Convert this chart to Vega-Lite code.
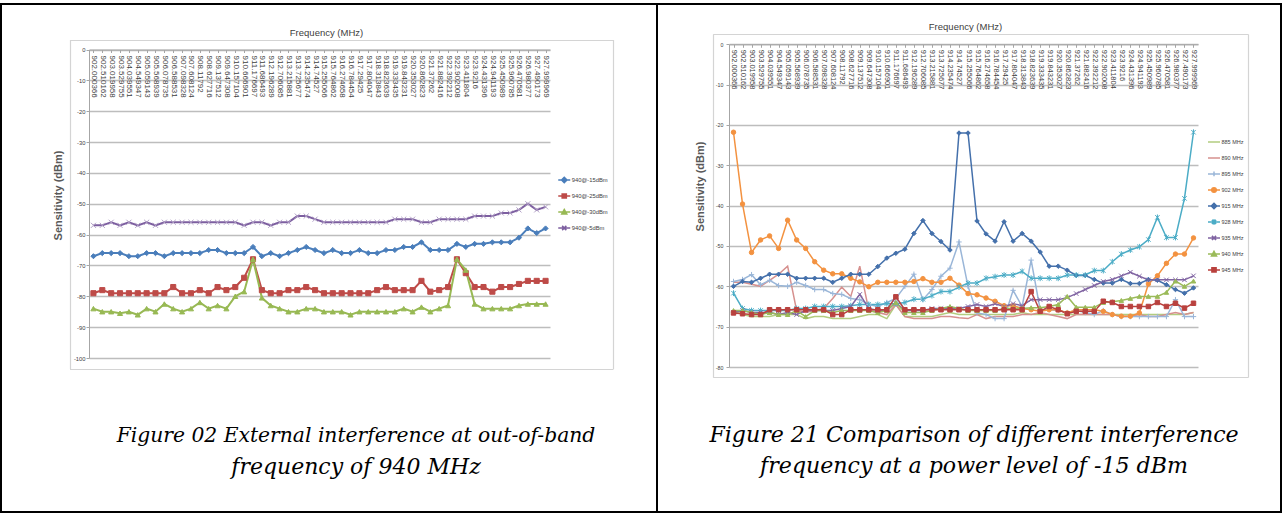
{
"$schema": "https://vega.github.io/schema/vega-lite/v6.json",
"padding": {"left": 0, "top": 3, "right": 0, "bottom": 0},
"background": "white",
"spacing": 0,
"bounds": "flush",
"config": {"view": {"stroke": "#000000", "strokeWidth": 2}, "font": "Liberation Sans"},
"resolve": {"scale": {"color": "independent", "fill": "independent", "stroke": "independent", "shape": "independent", "strokeWidth": "independent"}, "legend": {"color": "independent"}},
"datasets": {
"left": [
{"x":"902.000366","s":"940@-15dBm","v":-67},{"x":"902.510162","s":"940@-15dBm","v":-66},{"x":"903.019958","s":"940@-15dBm","v":-66},{"x":"903.529755","s":"940@-15dBm","v":-66},{"x":"904.039551","s":"940@-15dBm","v":-67},{"x":"904.549347","s":"940@-15dBm","v":-67},{"x":"905.059143","s":"940@-15dBm","v":-66},{"x":"905.568939","s":"940@-15dBm","v":-66},{"x":"906.078735","s":"940@-15dBm","v":-67},{"x":"906.588531","s":"940@-15dBm","v":-66},
{"x":"907.098328","s":"940@-15dBm","v":-66},{"x":"907.608124","s":"940@-15dBm","v":-66},{"x":"908.11792","s":"940@-15dBm","v":-66},{"x":"908.627716","s":"940@-15dBm","v":-65},{"x":"909.137512","s":"940@-15dBm","v":-65},{"x":"909.647308","s":"940@-15dBm","v":-66},{"x":"910.157104","s":"940@-15dBm","v":-66},{"x":"910.666901","s":"940@-15dBm","v":-66},{"x":"911.176697","s":"940@-15dBm","v":-64},{"x":"911.686493","s":"940@-15dBm","v":-67},
{"x":"912.196289","s":"940@-15dBm","v":-66},{"x":"912.706085","s":"940@-15dBm","v":-67},{"x":"913.215881","s":"940@-15dBm","v":-66},{"x":"913.725677","s":"940@-15dBm","v":-65},{"x":"914.235474","s":"940@-15dBm","v":-64},{"x":"914.74527","s":"940@-15dBm","v":-65},{"x":"915.255066","s":"940@-15dBm","v":-66},{"x":"915.764862","s":"940@-15dBm","v":-65},{"x":"916.274658","s":"940@-15dBm","v":-66},{"x":"916.784454","s":"940@-15dBm","v":-66},
{"x":"917.29425","s":"940@-15dBm","v":-65},{"x":"917.804047","s":"940@-15dBm","v":-66},{"x":"918.313843","s":"940@-15dBm","v":-66},{"x":"918.823639","s":"940@-15dBm","v":-65},{"x":"919.333435","s":"940@-15dBm","v":-65},{"x":"919.843231","s":"940@-15dBm","v":-64},{"x":"920.353027","s":"940@-15dBm","v":-64},{"x":"920.862823","s":"940@-15dBm","v":-62.5},{"x":"921.37262","s":"940@-15dBm","v":-65},{"x":"921.882416","s":"940@-15dBm","v":-65},
{"x":"922.392212","s":"940@-15dBm","v":-65},{"x":"922.902008","s":"940@-15dBm","v":-63},{"x":"923.411804","s":"940@-15dBm","v":-64},{"x":"923.9216","s":"940@-15dBm","v":-63},{"x":"924.431396","s":"940@-15dBm","v":-63},{"x":"924.941193","s":"940@-15dBm","v":-62.5},{"x":"925.450989","s":"940@-15dBm","v":-62.5},{"x":"925.960785","s":"940@-15dBm","v":-62.5},{"x":"926.470581","s":"940@-15dBm","v":-61},{"x":"926.980377","s":"940@-15dBm","v":-58},
{"x":"927.490173","s":"940@-15dBm","v":-59.5},{"x":"927.999969","s":"940@-15dBm","v":-58},
{"x":"902.000366","s":"940@-25dBm","v":-79},{"x":"902.510162","s":"940@-25dBm","v":-78},{"x":"903.019958","s":"940@-25dBm","v":-79},{"x":"903.529755","s":"940@-25dBm","v":-79},{"x":"904.039551","s":"940@-25dBm","v":-79},{"x":"904.549347","s":"940@-25dBm","v":-79},{"x":"905.059143","s":"940@-25dBm","v":-79},{"x":"905.568939","s":"940@-25dBm","v":-79},{"x":"906.078735","s":"940@-25dBm","v":-79},{"x":"906.588531","s":"940@-25dBm","v":-77},
{"x":"907.098328","s":"940@-25dBm","v":-79},{"x":"907.608124","s":"940@-25dBm","v":-79},{"x":"908.11792","s":"940@-25dBm","v":-78},{"x":"908.627716","s":"940@-25dBm","v":-79},{"x":"909.137512","s":"940@-25dBm","v":-77},{"x":"909.647308","s":"940@-25dBm","v":-78},{"x":"910.157104","s":"940@-25dBm","v":-77},{"x":"910.666901","s":"940@-25dBm","v":-74},{"x":"911.176697","s":"940@-25dBm","v":-68},{"x":"911.686493","s":"940@-25dBm","v":-78},
{"x":"912.196289","s":"940@-25dBm","v":-79},{"x":"912.706085","s":"940@-25dBm","v":-79},{"x":"913.215881","s":"940@-25dBm","v":-78},{"x":"913.725677","s":"940@-25dBm","v":-78},{"x":"914.235474","s":"940@-25dBm","v":-77},{"x":"914.74527","s":"940@-25dBm","v":-78},{"x":"915.255066","s":"940@-25dBm","v":-79},{"x":"915.764862","s":"940@-25dBm","v":-79},{"x":"916.274658","s":"940@-25dBm","v":-79},{"x":"916.784454","s":"940@-25dBm","v":-79},
{"x":"917.29425","s":"940@-25dBm","v":-79},{"x":"917.804047","s":"940@-25dBm","v":-79},{"x":"918.313843","s":"940@-25dBm","v":-78},{"x":"918.823639","s":"940@-25dBm","v":-77},{"x":"919.333435","s":"940@-25dBm","v":-78},{"x":"919.843231","s":"940@-25dBm","v":-78},{"x":"920.353027","s":"940@-25dBm","v":-78},{"x":"920.862823","s":"940@-25dBm","v":-75},{"x":"921.37262","s":"940@-25dBm","v":-78.5},{"x":"921.882416","s":"940@-25dBm","v":-78},
{"x":"922.392212","s":"940@-25dBm","v":-77},{"x":"922.902008","s":"940@-25dBm","v":-68},{"x":"923.411804","s":"940@-25dBm","v":-72.5},{"x":"923.9216","s":"940@-25dBm","v":-77},{"x":"924.431396","s":"940@-25dBm","v":-77},{"x":"924.941193","s":"940@-25dBm","v":-78.5},{"x":"925.450989","s":"940@-25dBm","v":-77},{"x":"925.960785","s":"940@-25dBm","v":-77},{"x":"926.470581","s":"940@-25dBm","v":-76},{"x":"926.980377","s":"940@-25dBm","v":-75},
{"x":"927.490173","s":"940@-25dBm","v":-75},{"x":"927.999969","s":"940@-25dBm","v":-75},
{"x":"902.000366","s":"940@-30dBm","v":-84},{"x":"902.510162","s":"940@-30dBm","v":-85},{"x":"903.019958","s":"940@-30dBm","v":-85},{"x":"903.529755","s":"940@-30dBm","v":-85.5},{"x":"904.039551","s":"940@-30dBm","v":-85},{"x":"904.549347","s":"940@-30dBm","v":-86},{"x":"905.059143","s":"940@-30dBm","v":-84},{"x":"905.568939","s":"940@-30dBm","v":-85},{"x":"906.078735","s":"940@-30dBm","v":-82.5},{"x":"906.588531","s":"940@-30dBm","v":-84},
{"x":"907.098328","s":"940@-30dBm","v":-85},{"x":"907.608124","s":"940@-30dBm","v":-84},{"x":"908.11792","s":"940@-30dBm","v":-82},{"x":"908.627716","s":"940@-30dBm","v":-84},{"x":"909.137512","s":"940@-30dBm","v":-83},{"x":"909.647308","s":"940@-30dBm","v":-84},{"x":"910.157104","s":"940@-30dBm","v":-80},{"x":"910.666901","s":"940@-30dBm","v":-78.5},{"x":"911.176697","s":"940@-30dBm","v":-68},{"x":"911.686493","s":"940@-30dBm","v":-80.5},
{"x":"912.196289","s":"940@-30dBm","v":-83},{"x":"912.706085","s":"940@-30dBm","v":-84},{"x":"913.215881","s":"940@-30dBm","v":-85},{"x":"913.725677","s":"940@-30dBm","v":-85},{"x":"914.235474","s":"940@-30dBm","v":-84},{"x":"914.74527","s":"940@-30dBm","v":-84},{"x":"915.255066","s":"940@-30dBm","v":-85},{"x":"915.764862","s":"940@-30dBm","v":-85},{"x":"916.274658","s":"940@-30dBm","v":-85},{"x":"916.784454","s":"940@-30dBm","v":-86},
{"x":"917.29425","s":"940@-30dBm","v":-85},{"x":"917.804047","s":"940@-30dBm","v":-85},{"x":"918.313843","s":"940@-30dBm","v":-85},{"x":"918.823639","s":"940@-30dBm","v":-85},{"x":"919.333435","s":"940@-30dBm","v":-85},{"x":"919.843231","s":"940@-30dBm","v":-84},{"x":"920.353027","s":"940@-30dBm","v":-85},{"x":"920.862823","s":"940@-30dBm","v":-83.5},{"x":"921.37262","s":"940@-30dBm","v":-85},{"x":"921.882416","s":"940@-30dBm","v":-84},
{"x":"922.392212","s":"940@-30dBm","v":-83},{"x":"922.902008","s":"940@-30dBm","v":-68},{"x":"923.411804","s":"940@-30dBm","v":-71.5},{"x":"923.9216","s":"940@-30dBm","v":-82.5},{"x":"924.431396","s":"940@-30dBm","v":-84},{"x":"924.941193","s":"940@-30dBm","v":-84},{"x":"925.450989","s":"940@-30dBm","v":-84},{"x":"925.960785","s":"940@-30dBm","v":-84},{"x":"926.470581","s":"940@-30dBm","v":-83},{"x":"926.980377","s":"940@-30dBm","v":-82.5},
{"x":"927.490173","s":"940@-30dBm","v":-82.5},{"x":"927.999969","s":"940@-30dBm","v":-82.5},
{"x":"902.000366","s":"940@-5dBm","v":-57},{"x":"902.510162","s":"940@-5dBm","v":-57},{"x":"903.019958","s":"940@-5dBm","v":-56},{"x":"903.529755","s":"940@-5dBm","v":-57},{"x":"904.039551","s":"940@-5dBm","v":-56},{"x":"904.549347","s":"940@-5dBm","v":-57},{"x":"905.059143","s":"940@-5dBm","v":-56},{"x":"905.568939","s":"940@-5dBm","v":-57},{"x":"906.078735","s":"940@-5dBm","v":-56},{"x":"906.588531","s":"940@-5dBm","v":-56},
{"x":"907.098328","s":"940@-5dBm","v":-56},{"x":"907.608124","s":"940@-5dBm","v":-56},{"x":"908.11792","s":"940@-5dBm","v":-56},{"x":"908.627716","s":"940@-5dBm","v":-56},{"x":"909.137512","s":"940@-5dBm","v":-56},{"x":"909.647308","s":"940@-5dBm","v":-56},{"x":"910.157104","s":"940@-5dBm","v":-56},{"x":"910.666901","s":"940@-5dBm","v":-57},{"x":"911.176697","s":"940@-5dBm","v":-56},{"x":"911.686493","s":"940@-5dBm","v":-56},
{"x":"912.196289","s":"940@-5dBm","v":-57},{"x":"912.706085","s":"940@-5dBm","v":-56},{"x":"913.215881","s":"940@-5dBm","v":-56},{"x":"913.725677","s":"940@-5dBm","v":-54},{"x":"914.235474","s":"940@-5dBm","v":-54},{"x":"914.74527","s":"940@-5dBm","v":-55},{"x":"915.255066","s":"940@-5dBm","v":-56},{"x":"915.764862","s":"940@-5dBm","v":-56},{"x":"916.274658","s":"940@-5dBm","v":-56},{"x":"916.784454","s":"940@-5dBm","v":-56},
{"x":"917.29425","s":"940@-5dBm","v":-56},{"x":"917.804047","s":"940@-5dBm","v":-56},{"x":"918.313843","s":"940@-5dBm","v":-56},{"x":"918.823639","s":"940@-5dBm","v":-56},{"x":"919.333435","s":"940@-5dBm","v":-55},{"x":"919.843231","s":"940@-5dBm","v":-55},{"x":"920.353027","s":"940@-5dBm","v":-55},{"x":"920.862823","s":"940@-5dBm","v":-56},{"x":"921.37262","s":"940@-5dBm","v":-56},{"x":"921.882416","s":"940@-5dBm","v":-55},
{"x":"922.392212","s":"940@-5dBm","v":-55},{"x":"922.902008","s":"940@-5dBm","v":-55},{"x":"923.411804","s":"940@-5dBm","v":-55},{"x":"923.9216","s":"940@-5dBm","v":-54},{"x":"924.431396","s":"940@-5dBm","v":-54},{"x":"924.941193","s":"940@-5dBm","v":-54},{"x":"925.450989","s":"940@-5dBm","v":-53},{"x":"925.960785","s":"940@-5dBm","v":-53},{"x":"926.470581","s":"940@-5dBm","v":-52},{"x":"926.980377","s":"940@-5dBm","v":-50},
{"x":"927.490173","s":"940@-5dBm","v":-52},{"x":"927.999969","s":"940@-5dBm","v":-51}
],
"right": [
{"x":"902.000366","s":"885 MHz","v":-66},{"x":"902.510162","s":"885 MHz","v":-67},{"x":"903.019958","s":"885 MHz","v":-67.5},{"x":"903.529755","s":"885 MHz","v":-67.5},{"x":"904.039551","s":"885 MHz","v":-67.5},{"x":"904.549347","s":"885 MHz","v":-67},{"x":"905.059143","s":"885 MHz","v":-67},{"x":"905.568939","s":"885 MHz","v":-67},{"x":"906.078735","s":"885 MHz","v":-68},{"x":"906.588531","s":"885 MHz","v":-67.5},
{"x":"907.098328","s":"885 MHz","v":-67.5},{"x":"907.608124","s":"885 MHz","v":-68},{"x":"908.11792","s":"885 MHz","v":-68},{"x":"908.627716","s":"885 MHz","v":-68},{"x":"909.137512","s":"885 MHz","v":-67.5},{"x":"909.647308","s":"885 MHz","v":-67},{"x":"910.157104","s":"885 MHz","v":-67},{"x":"910.666901","s":"885 MHz","v":-68},{"x":"911.176697","s":"885 MHz","v":-64.5},{"x":"911.686493","s":"885 MHz","v":-67.5},
{"x":"912.196289","s":"885 MHz","v":-67.5},{"x":"912.706085","s":"885 MHz","v":-67.5},{"x":"913.215881","s":"885 MHz","v":-67.5},{"x":"913.725677","s":"885 MHz","v":-67},{"x":"914.235474","s":"885 MHz","v":-66.5},{"x":"914.74527","s":"885 MHz","v":-67},{"x":"915.255066","s":"885 MHz","v":-67},{"x":"915.764862","s":"885 MHz","v":-67},{"x":"916.274658","s":"885 MHz","v":-67},{"x":"916.784454","s":"885 MHz","v":-67},
{"x":"917.29425","s":"885 MHz","v":-67},{"x":"917.804047","s":"885 MHz","v":-67},{"x":"918.313843","s":"885 MHz","v":-66.5},{"x":"918.823639","s":"885 MHz","v":-67},{"x":"919.333435","s":"885 MHz","v":-67},{"x":"919.843231","s":"885 MHz","v":-67},{"x":"920.353027","s":"885 MHz","v":-67},{"x":"920.862823","s":"885 MHz","v":-67},{"x":"921.37262","s":"885 MHz","v":-67},{"x":"921.882416","s":"885 MHz","v":-67},
{"x":"922.392212","s":"885 MHz","v":-67},{"x":"922.902008","s":"885 MHz","v":-67},{"x":"923.411804","s":"885 MHz","v":-67},{"x":"923.9216","s":"885 MHz","v":-67},{"x":"924.431396","s":"885 MHz","v":-67},{"x":"924.941193","s":"885 MHz","v":-67},{"x":"925.450989","s":"885 MHz","v":-67},{"x":"925.960785","s":"885 MHz","v":-67},{"x":"926.470581","s":"885 MHz","v":-67},{"x":"926.980377","s":"885 MHz","v":-67},
{"x":"927.490173","s":"885 MHz","v":-67},{"x":"927.999969","s":"885 MHz","v":-66.5},
{"x":"902.000366","s":"890 MHz","v":-59},{"x":"902.510162","s":"890 MHz","v":-59},{"x":"903.019958","s":"890 MHz","v":-59.5},{"x":"903.529755","s":"890 MHz","v":-60},{"x":"904.039551","s":"890 MHz","v":-58.5},{"x":"904.549347","s":"890 MHz","v":-57},{"x":"905.059143","s":"890 MHz","v":-55},{"x":"905.568939","s":"890 MHz","v":-66},{"x":"906.078735","s":"890 MHz","v":-66.5},{"x":"906.588531","s":"890 MHz","v":-66},
{"x":"907.098328","s":"890 MHz","v":-65.5},{"x":"907.608124","s":"890 MHz","v":-63},{"x":"908.11792","s":"890 MHz","v":-60.2},{"x":"908.627716","s":"890 MHz","v":-62.5},{"x":"909.137512","s":"890 MHz","v":-55},{"x":"909.647308","s":"890 MHz","v":-66},{"x":"910.157104","s":"890 MHz","v":-66.5},{"x":"910.666901","s":"890 MHz","v":-67},{"x":"911.176697","s":"890 MHz","v":-64.5},{"x":"911.686493","s":"890 MHz","v":-67.5},
{"x":"912.196289","s":"890 MHz","v":-68},{"x":"912.706085","s":"890 MHz","v":-68},{"x":"913.215881","s":"890 MHz","v":-68},{"x":"913.725677","s":"890 MHz","v":-67.5},{"x":"914.235474","s":"890 MHz","v":-67.5},{"x":"914.74527","s":"890 MHz","v":-67.8},{"x":"915.255066","s":"890 MHz","v":-68},{"x":"915.764862","s":"890 MHz","v":-67},{"x":"916.274658","s":"890 MHz","v":-68},{"x":"916.784454","s":"890 MHz","v":-67.5},
{"x":"917.29425","s":"890 MHz","v":-67.5},{"x":"917.804047","s":"890 MHz","v":-67.5},{"x":"918.313843","s":"890 MHz","v":-67},{"x":"918.823639","s":"890 MHz","v":-67},{"x":"919.333435","s":"890 MHz","v":-66.5},{"x":"919.843231","s":"890 MHz","v":-67},{"x":"920.353027","s":"890 MHz","v":-67.5},{"x":"920.862823","s":"890 MHz","v":-68},{"x":"921.37262","s":"890 MHz","v":-67},{"x":"921.882416","s":"890 MHz","v":-67},
{"x":"922.392212","s":"890 MHz","v":-67},{"x":"922.902008","s":"890 MHz","v":-67},{"x":"923.411804","s":"890 MHz","v":-67},{"x":"923.9216","s":"890 MHz","v":-67.5},{"x":"924.431396","s":"890 MHz","v":-67.5},{"x":"924.941193","s":"890 MHz","v":-67},{"x":"925.450989","s":"890 MHz","v":-67.5},{"x":"925.960785","s":"890 MHz","v":-67.5},{"x":"926.470581","s":"890 MHz","v":-67},{"x":"926.980377","s":"890 MHz","v":-66.5},
{"x":"927.490173","s":"890 MHz","v":-67},{"x":"927.999969","s":"890 MHz","v":-66.5},
{"x":"902.000366","s":"895 MHz","v":-58.8},{"x":"902.510162","s":"895 MHz","v":-58.3},{"x":"903.019958","s":"895 MHz","v":-57.1},{"x":"903.529755","s":"895 MHz","v":-59.6},{"x":"904.039551","s":"895 MHz","v":-58.5},{"x":"904.549347","s":"895 MHz","v":-59.8},{"x":"905.059143","s":"895 MHz","v":-60},{"x":"905.568939","s":"895 MHz","v":-59},{"x":"906.078735","s":"895 MHz","v":-59.8},{"x":"906.588531","s":"895 MHz","v":-60.8},
{"x":"907.098328","s":"895 MHz","v":-60.8},{"x":"907.608124","s":"895 MHz","v":-61.8},{"x":"908.11792","s":"895 MHz","v":-62},{"x":"908.627716","s":"895 MHz","v":-63},{"x":"909.137512","s":"895 MHz","v":-63.3},{"x":"909.647308","s":"895 MHz","v":-64.5},{"x":"910.157104","s":"895 MHz","v":-65},{"x":"910.666901","s":"895 MHz","v":-64},{"x":"911.176697","s":"895 MHz","v":-63},{"x":"911.686493","s":"895 MHz","v":-60},
{"x":"912.196289","s":"895 MHz","v":-57},{"x":"912.706085","s":"895 MHz","v":-63.3},{"x":"913.215881","s":"895 MHz","v":-60.8},{"x":"913.725677","s":"895 MHz","v":-57.5},{"x":"914.235474","s":"895 MHz","v":-55.5},{"x":"914.74527","s":"895 MHz","v":-49},{"x":"915.255066","s":"895 MHz","v":-60},{"x":"915.764862","s":"895 MHz","v":-66.6},{"x":"916.274658","s":"895 MHz","v":-67},{"x":"916.784454","s":"895 MHz","v":-68},
{"x":"917.29425","s":"895 MHz","v":-68},{"x":"917.804047","s":"895 MHz","v":-61},{"x":"918.313843","s":"895 MHz","v":-65},{"x":"918.823639","s":"895 MHz","v":-53.5},{"x":"919.333435","s":"895 MHz","v":-65.8},{"x":"919.843231","s":"895 MHz","v":-65.8},{"x":"920.353027","s":"895 MHz","v":-66},{"x":"920.862823","s":"895 MHz","v":-66.5},{"x":"921.37262","s":"895 MHz","v":-66},{"x":"921.882416","s":"895 MHz","v":-66.5},
{"x":"922.392212","s":"895 MHz","v":-67},{"x":"922.902008","s":"895 MHz","v":-66},{"x":"923.411804","s":"895 MHz","v":-67},{"x":"923.9216","s":"895 MHz","v":-67.5},{"x":"924.431396","s":"895 MHz","v":-67.5},{"x":"924.941193","s":"895 MHz","v":-67.5},{"x":"925.450989","s":"895 MHz","v":-67.5},{"x":"925.960785","s":"895 MHz","v":-67.5},{"x":"926.470581","s":"895 MHz","v":-67.5},{"x":"926.980377","s":"895 MHz","v":-63.3},
{"x":"927.490173","s":"895 MHz","v":-67.5},{"x":"927.999969","s":"895 MHz","v":-67.5},
{"x":"902.000366","s":"902 MHz","v":-21.8},{"x":"902.510162","s":"902 MHz","v":-39.6},{"x":"903.019958","s":"902 MHz","v":-51.6},{"x":"903.529755","s":"902 MHz","v":-48.5},{"x":"904.039551","s":"902 MHz","v":-47.5},{"x":"904.549347","s":"902 MHz","v":-50.6},{"x":"905.059143","s":"902 MHz","v":-43.6},{"x":"905.568939","s":"902 MHz","v":-48.5},{"x":"906.078735","s":"902 MHz","v":-50.6},{"x":"906.588531","s":"902 MHz","v":-53.9},
{"x":"907.098328","s":"902 MHz","v":-56},{"x":"907.608124","s":"902 MHz","v":-56.9},{"x":"908.11792","s":"902 MHz","v":-56.9},{"x":"908.627716","s":"902 MHz","v":-58},{"x":"909.137512","s":"902 MHz","v":-58.9},{"x":"909.647308","s":"902 MHz","v":-60.1},{"x":"910.157104","s":"902 MHz","v":-59},{"x":"910.666901","s":"902 MHz","v":-59},{"x":"911.176697","s":"902 MHz","v":-59},{"x":"911.686493","s":"902 MHz","v":-59},
{"x":"912.196289","s":"902 MHz","v":-58.8},{"x":"912.706085","s":"902 MHz","v":-58.1},{"x":"913.215881","s":"902 MHz","v":-59},{"x":"913.725677","s":"902 MHz","v":-59},{"x":"914.235474","s":"902 MHz","v":-58},{"x":"914.74527","s":"902 MHz","v":-59.7},{"x":"915.255066","s":"902 MHz","v":-61.8},{"x":"915.764862","s":"902 MHz","v":-62.1},{"x":"916.274658","s":"902 MHz","v":-62.9},{"x":"916.784454","s":"902 MHz","v":-63.7},
{"x":"917.29425","s":"902 MHz","v":-64.8},{"x":"917.804047","s":"902 MHz","v":-64.8},{"x":"918.313843","s":"902 MHz","v":-65.5},{"x":"918.823639","s":"902 MHz","v":-65.8},{"x":"919.333435","s":"902 MHz","v":-66.2},{"x":"919.843231","s":"902 MHz","v":-65.8},{"x":"920.353027","s":"902 MHz","v":-65.8},{"x":"920.862823","s":"902 MHz","v":-66.6},{"x":"921.37262","s":"902 MHz","v":-65.8},{"x":"921.882416","s":"902 MHz","v":-65.8},
{"x":"922.392212","s":"902 MHz","v":-65.8},{"x":"922.902008","s":"902 MHz","v":-66.2},{"x":"923.411804","s":"902 MHz","v":-67},{"x":"923.9216","s":"902 MHz","v":-67.4},{"x":"924.431396","s":"902 MHz","v":-67.4},{"x":"924.941193","s":"902 MHz","v":-66.6},{"x":"925.450989","s":"902 MHz","v":-59.4},{"x":"925.960785","s":"902 MHz","v":-57.4},{"x":"926.470581","s":"902 MHz","v":-54.3},{"x":"926.980377","s":"902 MHz","v":-52},
{"x":"927.490173","s":"902 MHz","v":-52},{"x":"927.999969","s":"902 MHz","v":-48},
{"x":"902.000366","s":"915 MHz","v":-60},{"x":"902.510162","s":"915 MHz","v":-58.8},{"x":"903.019958","s":"915 MHz","v":-59},{"x":"903.529755","s":"915 MHz","v":-58},{"x":"904.039551","s":"915 MHz","v":-57},{"x":"904.549347","s":"915 MHz","v":-57},{"x":"905.059143","s":"915 MHz","v":-57},{"x":"905.568939","s":"915 MHz","v":-58},{"x":"906.078735","s":"915 MHz","v":-58},{"x":"906.588531","s":"915 MHz","v":-58},
{"x":"907.098328","s":"915 MHz","v":-58},{"x":"907.608124","s":"915 MHz","v":-59},{"x":"908.11792","s":"915 MHz","v":-58},{"x":"908.627716","s":"915 MHz","v":-57},{"x":"909.137512","s":"915 MHz","v":-57},{"x":"909.647308","s":"915 MHz","v":-57},{"x":"910.157104","s":"915 MHz","v":-55.1},{"x":"910.666901","s":"915 MHz","v":-53},{"x":"911.176697","s":"915 MHz","v":-51.8},{"x":"911.686493","s":"915 MHz","v":-50.8},
{"x":"912.196289","s":"915 MHz","v":-46.9},{"x":"912.706085","s":"915 MHz","v":-43.7},{"x":"913.215881","s":"915 MHz","v":-46.9},{"x":"913.725677","s":"915 MHz","v":-48.9},{"x":"914.235474","s":"915 MHz","v":-51},{"x":"914.74527","s":"915 MHz","v":-22},{"x":"915.255066","s":"915 MHz","v":-22},{"x":"915.764862","s":"915 MHz","v":-43.8},{"x":"916.274658","s":"915 MHz","v":-47},{"x":"916.784454","s":"915 MHz","v":-48.8},
{"x":"917.29425","s":"915 MHz","v":-44},{"x":"917.804047","s":"915 MHz","v":-48.8},{"x":"918.313843","s":"915 MHz","v":-46.9},{"x":"918.823639","s":"915 MHz","v":-48.8},{"x":"919.333435","s":"915 MHz","v":-51.5},{"x":"919.843231","s":"915 MHz","v":-55},{"x":"920.353027","s":"915 MHz","v":-55},{"x":"920.862823","s":"915 MHz","v":-56},{"x":"921.37262","s":"915 MHz","v":-57.3},{"x":"921.882416","s":"915 MHz","v":-57.3},
{"x":"922.392212","s":"915 MHz","v":-58.3},{"x":"922.902008","s":"915 MHz","v":-59.2},{"x":"923.411804","s":"915 MHz","v":-59.2},{"x":"923.9216","s":"915 MHz","v":-58.3},{"x":"924.431396","s":"915 MHz","v":-59.3},{"x":"924.941193","s":"915 MHz","v":-59.3},{"x":"925.450989","s":"915 MHz","v":-58.3},{"x":"925.960785","s":"915 MHz","v":-58.5},{"x":"926.470581","s":"915 MHz","v":-59.6},{"x":"926.980377","s":"915 MHz","v":-60.8},
{"x":"927.490173","s":"915 MHz","v":-61.7},{"x":"927.999969","s":"915 MHz","v":-60.4},
{"x":"902.000366","s":"928 MHz","v":-61.7},{"x":"902.510162","s":"928 MHz","v":-65.5},{"x":"903.019958","s":"928 MHz","v":-66},{"x":"903.529755","s":"928 MHz","v":-66},{"x":"904.039551","s":"928 MHz","v":-66},{"x":"904.549347","s":"928 MHz","v":-66},{"x":"905.059143","s":"928 MHz","v":-66},{"x":"905.568939","s":"928 MHz","v":-65.5},{"x":"906.078735","s":"928 MHz","v":-65.5},{"x":"906.588531","s":"928 MHz","v":-65},
{"x":"907.098328","s":"928 MHz","v":-65},{"x":"907.608124","s":"928 MHz","v":-65},{"x":"908.11792","s":"928 MHz","v":-65},{"x":"908.627716","s":"928 MHz","v":-64.8},{"x":"909.137512","s":"928 MHz","v":-64.5},{"x":"909.647308","s":"928 MHz","v":-64.5},{"x":"910.157104","s":"928 MHz","v":-64.5},{"x":"910.666901","s":"928 MHz","v":-64.3},{"x":"911.176697","s":"928 MHz","v":-64.3},{"x":"911.686493","s":"928 MHz","v":-64},
{"x":"912.196289","s":"928 MHz","v":-63.2},{"x":"912.706085","s":"928 MHz","v":-63.2},{"x":"913.215881","s":"928 MHz","v":-62.3},{"x":"913.725677","s":"928 MHz","v":-61.3},{"x":"914.235474","s":"928 MHz","v":-61.3},{"x":"914.74527","s":"928 MHz","v":-60.2},{"x":"915.255066","s":"928 MHz","v":-59.2},{"x":"915.764862","s":"928 MHz","v":-59.2},{"x":"916.274658","s":"928 MHz","v":-58},{"x":"916.784454","s":"928 MHz","v":-57.6},
{"x":"917.29425","s":"928 MHz","v":-57.2},{"x":"917.804047","s":"928 MHz","v":-57.2},{"x":"918.313843","s":"928 MHz","v":-56.3},{"x":"918.823639","s":"928 MHz","v":-58},{"x":"919.333435","s":"928 MHz","v":-58},{"x":"919.843231","s":"928 MHz","v":-58},{"x":"920.353027","s":"928 MHz","v":-58},{"x":"920.862823","s":"928 MHz","v":-57.2},{"x":"921.37262","s":"928 MHz","v":-57.2},{"x":"921.882416","s":"928 MHz","v":-57.2},
{"x":"922.392212","s":"928 MHz","v":-56.1},{"x":"922.902008","s":"928 MHz","v":-56.1},{"x":"923.411804","s":"928 MHz","v":-53.9},{"x":"923.9216","s":"928 MHz","v":-52},{"x":"924.431396","s":"928 MHz","v":-51},{"x":"924.941193","s":"928 MHz","v":-50.2},{"x":"925.450989","s":"928 MHz","v":-48.4},{"x":"925.960785","s":"928 MHz","v":-42.9},{"x":"926.470581","s":"928 MHz","v":-47.9},{"x":"926.980377","s":"928 MHz","v":-47.9},
{"x":"927.490173","s":"928 MHz","v":-38.2},{"x":"927.999969","s":"928 MHz","v":-21.8},
{"x":"902.000366","s":"935 MHz","v":-66.5},{"x":"902.510162","s":"935 MHz","v":-66},{"x":"903.019958","s":"935 MHz","v":-66.5},{"x":"903.529755","s":"935 MHz","v":-66.5},{"x":"904.039551","s":"935 MHz","v":-66.5},{"x":"904.549347","s":"935 MHz","v":-67},{"x":"905.059143","s":"935 MHz","v":-66.5},{"x":"905.568939","s":"935 MHz","v":-67},{"x":"906.078735","s":"935 MHz","v":-66},{"x":"906.588531","s":"935 MHz","v":-66},
{"x":"907.098328","s":"935 MHz","v":-66},{"x":"907.608124","s":"935 MHz","v":-66},{"x":"908.11792","s":"935 MHz","v":-65.5},{"x":"908.627716","s":"935 MHz","v":-65},{"x":"909.137512","s":"935 MHz","v":-62},{"x":"909.647308","s":"935 MHz","v":-65.5},{"x":"910.157104","s":"935 MHz","v":-66},{"x":"910.666901","s":"935 MHz","v":-66},{"x":"911.176697","s":"935 MHz","v":-64},{"x":"911.686493","s":"935 MHz","v":-66},
{"x":"912.196289","s":"935 MHz","v":-66},{"x":"912.706085","s":"935 MHz","v":-66},{"x":"913.215881","s":"935 MHz","v":-65.5},{"x":"913.725677","s":"935 MHz","v":-65.5},{"x":"914.235474","s":"935 MHz","v":-65.5},{"x":"914.74527","s":"935 MHz","v":-65.5},{"x":"915.255066","s":"935 MHz","v":-65},{"x":"915.764862","s":"935 MHz","v":-64.5},{"x":"916.274658","s":"935 MHz","v":-65},{"x":"916.784454","s":"935 MHz","v":-64.3},
{"x":"917.29425","s":"935 MHz","v":-65},{"x":"917.804047","s":"935 MHz","v":-64.3},{"x":"918.313843","s":"935 MHz","v":-64.8},{"x":"918.823639","s":"935 MHz","v":-63.3},{"x":"919.333435","s":"935 MHz","v":-63.3},{"x":"919.843231","s":"935 MHz","v":-63.3},{"x":"920.353027","s":"935 MHz","v":-63.3},{"x":"920.862823","s":"935 MHz","v":-62.8},{"x":"921.37262","s":"935 MHz","v":-61.8},{"x":"921.882416","s":"935 MHz","v":-60.8},
{"x":"922.392212","s":"935 MHz","v":-59.8},{"x":"922.902008","s":"935 MHz","v":-58.8},{"x":"923.411804","s":"935 MHz","v":-58.3},{"x":"923.9216","s":"935 MHz","v":-57.4},{"x":"924.431396","s":"935 MHz","v":-56.5},{"x":"924.941193","s":"935 MHz","v":-57.5},{"x":"925.450989","s":"935 MHz","v":-58.4},{"x":"925.960785","s":"935 MHz","v":-58.4},{"x":"926.470581","s":"935 MHz","v":-58.4},{"x":"926.980377","s":"935 MHz","v":-58.4},
{"x":"927.490173","s":"935 MHz","v":-58.4},{"x":"927.999969","s":"935 MHz","v":-57.4},
{"x":"902.000366","s":"940 MHz","v":-66},{"x":"902.510162","s":"940 MHz","v":-66},{"x":"903.019958","s":"940 MHz","v":-66.5},{"x":"903.529755","s":"940 MHz","v":-67},{"x":"904.039551","s":"940 MHz","v":-66.5},{"x":"904.549347","s":"940 MHz","v":-67},{"x":"905.059143","s":"940 MHz","v":-67},{"x":"905.568939","s":"940 MHz","v":-66},{"x":"906.078735","s":"940 MHz","v":-67.5},{"x":"906.588531","s":"940 MHz","v":-66},
{"x":"907.098328","s":"940 MHz","v":-66},{"x":"907.608124","s":"940 MHz","v":-66.5},{"x":"908.11792","s":"940 MHz","v":-66},{"x":"908.627716","s":"940 MHz","v":-66},{"x":"909.137512","s":"940 MHz","v":-66},{"x":"909.647308","s":"940 MHz","v":-66},{"x":"910.157104","s":"940 MHz","v":-66.5},{"x":"910.666901","s":"940 MHz","v":-66},{"x":"911.176697","s":"940 MHz","v":-64},{"x":"911.686493","s":"940 MHz","v":-66.5},
{"x":"912.196289","s":"940 MHz","v":-66.5},{"x":"912.706085","s":"940 MHz","v":-66.5},{"x":"913.215881","s":"940 MHz","v":-66},{"x":"913.725677","s":"940 MHz","v":-65.5},{"x":"914.235474","s":"940 MHz","v":-65},{"x":"914.74527","s":"940 MHz","v":-65.5},{"x":"915.255066","s":"940 MHz","v":-66},{"x":"915.764862","s":"940 MHz","v":-66},{"x":"916.274658","s":"940 MHz","v":-66},{"x":"916.784454","s":"940 MHz","v":-66},
{"x":"917.29425","s":"940 MHz","v":-65.5},{"x":"917.804047","s":"940 MHz","v":-65.5},{"x":"918.313843","s":"940 MHz","v":-65.5},{"x":"918.823639","s":"940 MHz","v":-65.3},{"x":"919.333435","s":"940 MHz","v":-65.3},{"x":"919.843231","s":"940 MHz","v":-65},{"x":"920.353027","s":"940 MHz","v":-64.5},{"x":"920.862823","s":"940 MHz","v":-62.5},{"x":"921.37262","s":"940 MHz","v":-65.2},{"x":"921.882416","s":"940 MHz","v":-65.2},
{"x":"922.392212","s":"940 MHz","v":-65.2},{"x":"922.902008","s":"940 MHz","v":-64},{"x":"923.411804","s":"940 MHz","v":-63.8},{"x":"923.9216","s":"940 MHz","v":-63.5},{"x":"924.431396","s":"940 MHz","v":-63},{"x":"924.941193","s":"940 MHz","v":-62.5},{"x":"925.450989","s":"940 MHz","v":-62.5},{"x":"925.960785","s":"940 MHz","v":-62.5},{"x":"926.470581","s":"940 MHz","v":-61.5},{"x":"926.980377","s":"940 MHz","v":-58.7},
{"x":"927.490173","s":"940 MHz","v":-60},{"x":"927.999969","s":"940 MHz","v":-58.7},
{"x":"902.000366","s":"945 MHz","v":-66.6},{"x":"902.510162","s":"945 MHz","v":-66.8},{"x":"903.019958","s":"945 MHz","v":-67},{"x":"903.529755","s":"945 MHz","v":-67},{"x":"904.039551","s":"945 MHz","v":-65.8},{"x":"904.549347","s":"945 MHz","v":-65.8},{"x":"905.059143","s":"945 MHz","v":-65.8},{"x":"905.568939","s":"945 MHz","v":-65.8},{"x":"906.078735","s":"945 MHz","v":-65.8},{"x":"906.588531","s":"945 MHz","v":-65.8},
{"x":"907.098328","s":"945 MHz","v":-65.8},{"x":"907.608124","s":"945 MHz","v":-67},{"x":"908.11792","s":"945 MHz","v":-67},{"x":"908.627716","s":"945 MHz","v":-65.8},{"x":"909.137512","s":"945 MHz","v":-65.8},{"x":"909.647308","s":"945 MHz","v":-65.8},{"x":"910.157104","s":"945 MHz","v":-65.8},{"x":"910.666901","s":"945 MHz","v":-65.8},{"x":"911.176697","s":"945 MHz","v":-62.6},{"x":"911.686493","s":"945 MHz","v":-65.8},
{"x":"912.196289","s":"945 MHz","v":-65.8},{"x":"912.706085","s":"945 MHz","v":-65.8},{"x":"913.215881","s":"945 MHz","v":-65.8},{"x":"913.725677","s":"945 MHz","v":-65.8},{"x":"914.235474","s":"945 MHz","v":-65.8},{"x":"914.74527","s":"945 MHz","v":-65.8},{"x":"915.255066","s":"945 MHz","v":-65.8},{"x":"915.764862","s":"945 MHz","v":-65.8},{"x":"916.274658","s":"945 MHz","v":-65.8},{"x":"916.784454","s":"945 MHz","v":-65.8},
{"x":"917.29425","s":"945 MHz","v":-65.8},{"x":"917.804047","s":"945 MHz","v":-65.8},{"x":"918.313843","s":"945 MHz","v":-65.8},{"x":"918.823639","s":"945 MHz","v":-61.3},{"x":"919.333435","s":"945 MHz","v":-66.2},{"x":"919.843231","s":"945 MHz","v":-65},{"x":"920.353027","s":"945 MHz","v":-65.8},{"x":"920.862823","s":"945 MHz","v":-66.8},{"x":"921.37262","s":"945 MHz","v":-66.2},{"x":"921.882416","s":"945 MHz","v":-66.2},
{"x":"922.392212","s":"945 MHz","v":-66.2},{"x":"922.902008","s":"945 MHz","v":-63.7},{"x":"923.411804","s":"945 MHz","v":-64},{"x":"923.9216","s":"945 MHz","v":-65},{"x":"924.431396","s":"945 MHz","v":-65},{"x":"924.941193","s":"945 MHz","v":-65},{"x":"925.450989","s":"945 MHz","v":-65},{"x":"925.960785","s":"945 MHz","v":-64},{"x":"926.470581","s":"945 MHz","v":-65},{"x":"926.980377","s":"945 MHz","v":-64.2},
{"x":"927.490173","s":"945 MHz","v":-65.4},{"x":"927.999969","s":"945 MHz","v":-64.2}
]
},
"hconcat": [
{
"width": 656, "height": 508,
"title": {"text": "Figure 02 External interference at out-of-band", "subtitle": "frequency of 940 MHz", "orient": "bottom", "anchor": "middle", "frame": "group", "offset": -86, "dx": 27, "font": "DejaVu Serif", "fontStyle": "italic", "fontWeight": "normal", "fontSize": 20.3, "baseline": "top", "color": "#000000", "subtitleFont": "DejaVu Serif", "subtitleFontStyle": "italic", "subtitleFontWeight": "normal", "subtitleFontSize": 22, "subtitleColor": "#000000", "subtitlePadding": 10.5},
"resolve": {"scale": {"x": "independent", "y": "independent"}, "axis": {"x": "independent", "y": "independent"}},
"layer": [
{
"data": {"name": "left"},
"encoding": {
"x": {"field": "x", "type": "ordinal", "sort": null, "scale": {"type": "point", "range": [88, 549], "padding": 0.5},
"axis": {"orient": "top", "offset": -45.5, "labelAngle": 90, "labelAlign": "left", "labelBaseline": "middle", "labelFontSize": 8, "labelColor": "#404040", "labelPadding": -2.5, "labelOverlap": false, "labelBound": false, "labelFlush": false, "tickSize": -3, "tickColor": "#a6a6a6", "domainColor": "#a6a6a6", "grid": false, "title": "Frequency (MHz)", "titleFontSize": 9.5, "titleFontWeight": "normal", "titleColor": "#404040", "titleX": 325, "titleY": -17.5, "titleAlign": "center", "titleBaseline": "middle"}},
"y": {"field": "v", "type": "quantitative", "scale": {"domain": [-100, 0], "range": [354, 45.5], "nice": false, "zero": false},
"axis": {"orient": "left", "offset": -88, "values": [-100,-90,-80,-70,-60,-50,-40,-30,-20,-10,0], "labelExpr": "'' + datum.value", "labelFontSize": 5.8, "labelColor": "#404040", "labelPadding": 1, "tickSize": 3, "tickColor": "#a6a6a6", "domainColor": "#a6a6a6", "grid": true, "gridColor": "#bdbdbd", "gridWidth": 1.3, "title": "Sensitivity (dBm)", "titleFontSize": 11, "titleFontWeight": "bold", "titleColor": "#595959", "titleX": -31, "titleY": 191, "titleAngle": 270, "titleAlign": "center", "titleBaseline": "middle"}}
},
"layer": [
{"mark": {"type": "line", "strokeWidth": 2},
"encoding": {"color": {"field": "s", "type": "nominal", "scale": {"domain": ["940@-15dBm","940@-25dBm","940@-30dBm","940@-5dBm"], "range": ["#4a7ebb","#be4b48","#98b954","#7d5fa0"]},
"legend": {"title": null, "orient": "none", "legendX": 556.25, "legendY": 168, "padding": 0, "rowPadding": 0, "clipHeight": 16, "symbolSize": 144, "symbolStrokeWidth": 1.5, "labelFontSize": 5.8, "labelColor": "#404040", "labelOffset": 0.5,
"encode": {"symbols": {"update": {
"shape": {"signal": "['M-1,0H1M0,-0.45L0.45,0L0,0.45L-0.45,0Z','M-1,0H1M-0.35,-0.35H0.35V0.35H-0.35Z','M-1,0H1M0,-0.42L0.42,0.35H-0.42Z','M-1,0H1M-0.35,-0.35L0.35,0.35M-0.35,0.35L0.35,-0.35'][indexof(['940@-15dBm','940@-25dBm','940@-30dBm','940@-5dBm'], datum.value)]"},
"fill": {"signal": "['#4a7ebb','#be4b48','#98b954','#7d5fa0'][indexof(['940@-15dBm','940@-25dBm','940@-30dBm','940@-5dBm'], datum.value)]"},
"stroke": {"signal": "['#4a7ebb','#be4b48','#98b954','#7d5fa0'][indexof(['940@-15dBm','940@-25dBm','940@-30dBm','940@-5dBm'], datum.value)]"},
"strokeWidth": {"value": 1.5}, "opacity": {"value": 1}}}}}}}},
{"mark": {"type": "point", "filled": true, "size": 26, "strokeWidth": 1, "opacity": 1},
"encoding": {
"fill": {"field": "s", "type": "nominal", "scale": {"domain": ["940@-15dBm","940@-25dBm","940@-30dBm","940@-5dBm","none"], "range": ["#4a7ebb","#be4b48","#98b954","#b3a2c7","#ffffff"]}, "legend": null},
"stroke": {"field": "s", "type": "nominal", "scale": {"domain": ["940@-15dBm","940@-25dBm","940@-30dBm","940@-5dBm","none"], "range": ["#4a7ebb","#be4b48","#98b954","#b3a2c7","#ffffff"]}, "legend": null},
"shape": {"field": "s", "type": "nominal", "scale": {"domain": ["940@-15dBm","940@-25dBm","940@-30dBm","940@-5dBm","none"], "range": ["diamond","square","triangle-up","M-1,-1L1,1M-1,1L1,-1","circle"]}, "legend": null}}}
]
},
{
"data": {"values": [{}]},
"mark": {"type": "point", "opacity": 0},
"encoding": {
"x": {"datum": 0, "type": "quantitative", "scale": {"domain": [0, 1], "range": [68.5, 612], "nice": false, "zero": false}, "axis": {"orient": "top", "values": [0, 1], "grid": true, "gridColor": "#d4d4d4", "gridWidth": 1.2, "labels": false, "ticks": false, "domain": false, "title": null}},
"y": {"datum": 0, "type": "quantitative", "scale": {"domain": [0, 1], "range": [364.5, 35.5], "nice": false, "zero": false}, "axis": {"orient": "left", "values": [0, 1], "grid": true, "gridColor": "#d4d4d4", "gridWidth": 1.2, "labels": false, "ticks": false, "domain": false, "title": null}}
}
}
]
},
{
"width": 624, "height": 508,
"title": {"text": ["Figure 21 Comparison of different interference", "frequency at a power level of -15 dBm"], "orient": "bottom", "anchor": "middle", "frame": "group", "offset": -87, "dx": 5, "font": "DejaVu Serif", "fontStyle": "italic", "fontWeight": "normal", "fontSize": 22.1, "lineHeight": 31, "baseline": "top", "color": "#000000"},
"resolve": {"scale": {"x": "independent", "y": "independent"}, "axis": {"x": "independent", "y": "independent"}},
"layer": [
{
"data": {"name": "right"},
"encoding": {
"x": {"field": "x", "type": "ordinal", "sort": null, "scale": {"type": "point", "range": [72, 541], "padding": 0.5},
"axis": {"orient": "top", "offset": -40.3, "labelAngle": 90, "labelAlign": "left", "labelBaseline": "middle", "labelFontSize": 7.5, "labelColor": "#404040", "labelPadding": -2, "labelOverlap": false, "labelBound": false, "labelFlush": false, "tickSize": -3, "tickColor": "#a6a6a6", "domainColor": "#a6a6a6", "grid": false, "title": "Frequency (MHz)", "titleFontSize": 9.5, "titleFontWeight": "normal", "titleColor": "#404040", "titleX": 308, "titleY": -18.3, "titleAlign": "center", "titleBaseline": "middle"}},
"y": {"field": "v", "type": "quantitative", "scale": {"domain": [-80, 0], "range": [363, 40.3], "nice": false, "zero": false},
"axis": {"orient": "left", "offset": -72, "values": [-80,-70,-60,-50,-40,-30,-20,-10,0], "labelExpr": "'' + datum.value", "labelFontSize": 5.3, "labelColor": "#404040", "labelPadding": 3, "tickSize": 3, "tickColor": "#a6a6a6", "domainColor": "#a6a6a6", "grid": true, "gridColor": "#bdbdbd", "gridWidth": 1.3, "title": "Sensitivity (dBm)", "titleFontSize": 11, "titleFontWeight": "bold", "titleColor": "#595959", "titleX": -29, "titleY": 182, "titleAngle": 270, "titleAlign": "center", "titleBaseline": "middle"}}
},
"layer": [
{"mark": {"type": "line"},
"encoding": {
"strokeWidth": {"field": "s", "type": "nominal", "scale": {"domain": ["885 MHz","890 MHz","895 MHz","902 MHz","915 MHz","928 MHz","935 MHz","940 MHz","945 MHz"], "range": [1.5,1.5,1.6,2,2,2,2,2,2.2]}, "legend": null},
"color": {"field": "s", "type": "nominal", "scale": {"domain": ["885 MHz","890 MHz","895 MHz","902 MHz","915 MHz","928 MHz","935 MHz","940 MHz","945 MHz"], "range": ["#b2cd7f","#d6908e","#9ab6d8","#f39240","#4470ab","#4bacc6","#8064a2","#9bbb59","#b9413e"]},
"legend": {"title": null, "orient": "none", "legendX": 550, "legendY": 130, "padding": 0, "rowPadding": 0, "clipHeight": 15.9, "symbolSize": 144, "symbolStrokeWidth": 1.5, "labelFontSize": 5.5, "labelColor": "#404040", "labelOffset": 0.5,
"encode": {"symbols": {"update": {
"shape": {"signal": "['M-1,0H1','M-1,0H1','M-1,0H1M0,-0.4V0.4','M-1,0H1M0.38,0A0.38,0.38,0,1,1,-0.38,0A0.38,0.38,0,1,1,0.38,0Z','M-1,0H1M0,-0.45L0.45,0L0,0.45L-0.45,0Z','M-1,0H1M-0.35,-0.35L0.35,0.35M-0.35,0.35L0.35,-0.35M0,-0.45V0.45','M-1,0H1M-0.35,-0.35L0.35,0.35M-0.35,0.35L0.35,-0.35','M-1,0H1M0,-0.42L0.42,0.35H-0.42Z','M-1,0H1M-0.35,-0.35H0.35V0.35H-0.35Z'][indexof(['885 MHz','890 MHz','895 MHz','902 MHz','915 MHz','928 MHz','935 MHz','940 MHz','945 MHz'], datum.value)]"},
"fill": {"signal": "['#b2cd7f','#d6908e','#9ab6d8','#f39240','#4470ab','#4bacc6','#8064a2','#9bbb59','#b9413e'][indexof(['885 MHz','890 MHz','895 MHz','902 MHz','915 MHz','928 MHz','935 MHz','940 MHz','945 MHz'], datum.value)]"},
"stroke": {"signal": "['#b2cd7f','#d6908e','#9ab6d8','#f39240','#4470ab','#4bacc6','#8064a2','#9bbb59','#b9413e'][indexof(['885 MHz','890 MHz','895 MHz','902 MHz','915 MHz','928 MHz','935 MHz','940 MHz','945 MHz'], datum.value)]"},
"strokeWidth": {"value": 1.5}, "opacity": {"value": 1}}}}}}}},
{"transform": [{"filter": "datum.s != '885 MHz' && datum.s != '890 MHz'"}],
"mark": {"type": "point", "filled": true, "size": 20, "strokeWidth": 1, "opacity": 1},
"encoding": {
"fill": {"field": "s", "type": "nominal", "scale": {"domain": ["895 MHz","902 MHz","915 MHz","928 MHz","935 MHz","940 MHz","945 MHz"], "range": ["#9ab6d8","#f39240","#4470ab","#4bacc6","#8064a2","#9bbb59","#b9413e"]}, "legend": null},
"stroke": {"field": "s", "type": "nominal", "scale": {"domain": ["895 MHz","902 MHz","915 MHz","928 MHz","935 MHz","940 MHz","945 MHz"], "range": ["#9ab6d8","#f39240","#4470ab","#4bacc6","#8064a2","#9bbb59","#b9413e"]}, "legend": null},
"shape": {"field": "s", "type": "nominal", "scale": {"domain": ["895 MHz","902 MHz","915 MHz","928 MHz","935 MHz","940 MHz","945 MHz"], "range": ["M-1.2,0H1.2M0,-1.2V1.2","circle","diamond","M-1,-1L1,1M-1,1L1,-1M0,-1.3V1.3","M-1,-1L1,1M-1,1L1,-1","triangle-up","square"]}, "legend": null}}}
]
},
{
"data": {"values": [{}]},
"mark": {"type": "point", "opacity": 0},
"encoding": {
"x": {"datum": 0, "type": "quantitative", "scale": {"domain": [0, 1], "range": [55.7, 591], "nice": false, "zero": false}, "axis": {"orient": "top", "values": [0, 1], "grid": true, "gridColor": "#d4d4d4", "gridWidth": 1.2, "labels": false, "ticks": false, "domain": false, "title": null}},
"y": {"datum": 0, "type": "quantitative", "scale": {"domain": [0, 1], "range": [373, 30], "nice": false, "zero": false}, "axis": {"orient": "left", "values": [0, 1], "grid": true, "gridColor": "#d4d4d4", "gridWidth": 1.2, "labels": false, "ticks": false, "domain": false, "title": null}}
}
}
]
}
]
}
